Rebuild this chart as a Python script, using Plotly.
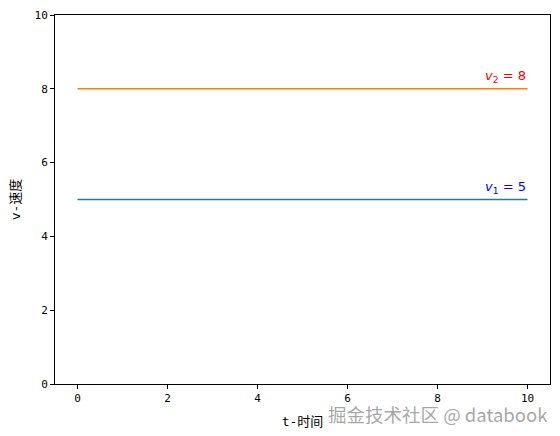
import plotly.graph_objects as go

t = [0, 10]
v1 = [5, 5]
v2 = [8, 8]
ticks = [0, 2, 4, 6, 8, 10]

fig = go.Figure()
fig.add_trace(go.Scatter(x=t, y=v1, mode="lines", line=dict(color="#1f77b4", width=1.5), showlegend=False))
fig.add_trace(go.Scatter(x=t, y=v2, mode="lines", line=dict(color="#ff7f0e", width=1.5), showlegend=False))

fig.add_annotation(x=9, y=v1[0] + 0.05, text="<i>v</i><sub>1</sub> = 5", showarrow=False,
                   xanchor="left", yanchor="bottom", font=dict(color="blue", size=13, family="DejaVu Sans"))
fig.add_annotation(x=9, y=v2[0] + 0.05, text="<i>v</i><sub>2</sub> = 8", showarrow=False,
                   xanchor="left", yanchor="bottom", font=dict(color="red", size=13, family="DejaVu Sans"))

fig.add_annotation(x=1.0, y=0, xref="paper", yref="paper", xanchor="right", yanchor="top", yshift=-15,
                   text="掘金技术社区 @ databook", showarrow=False,
                   font=dict(color="rgba(150,150,150,0.85)", size=18.5, family="Noto Sans CJK SC"))

axis_common = dict(showgrid=False, zeroline=False, showline=True, linecolor="black", linewidth=1,
                   mirror=True, ticks="outside", ticklen=4, tickcolor="black", automargin=False,
                   tickfont=dict(family="DejaVu Sans Mono", size=11, color="black"))

title_font = dict(family="DejaVu Sans Mono, Noto Sans CJK SC", size=13, color="black")

fig.update_xaxes(range=[-0.5, 10.5], tickvals=ticks, ticktext=[str(v) for v in ticks],
                 title=dict(text="t-时间", font=title_font, standoff=12),
                 **axis_common)
fig.update_yaxes(range=[0, 10], tickvals=ticks, ticktext=[str(v) for v in ticks],
                 title=dict(text="v-速度", font=title_font, standoff=12),
                 **axis_common)

# page body has an 8px margin, so the figure is made 8px smaller and shifted
fig.update_layout(width=552, height=428, margin=dict(l=47, r=10, t=7, b=52),
                  plot_bgcolor="white", paper_bgcolor="white")

fig.write_html("out.html")
